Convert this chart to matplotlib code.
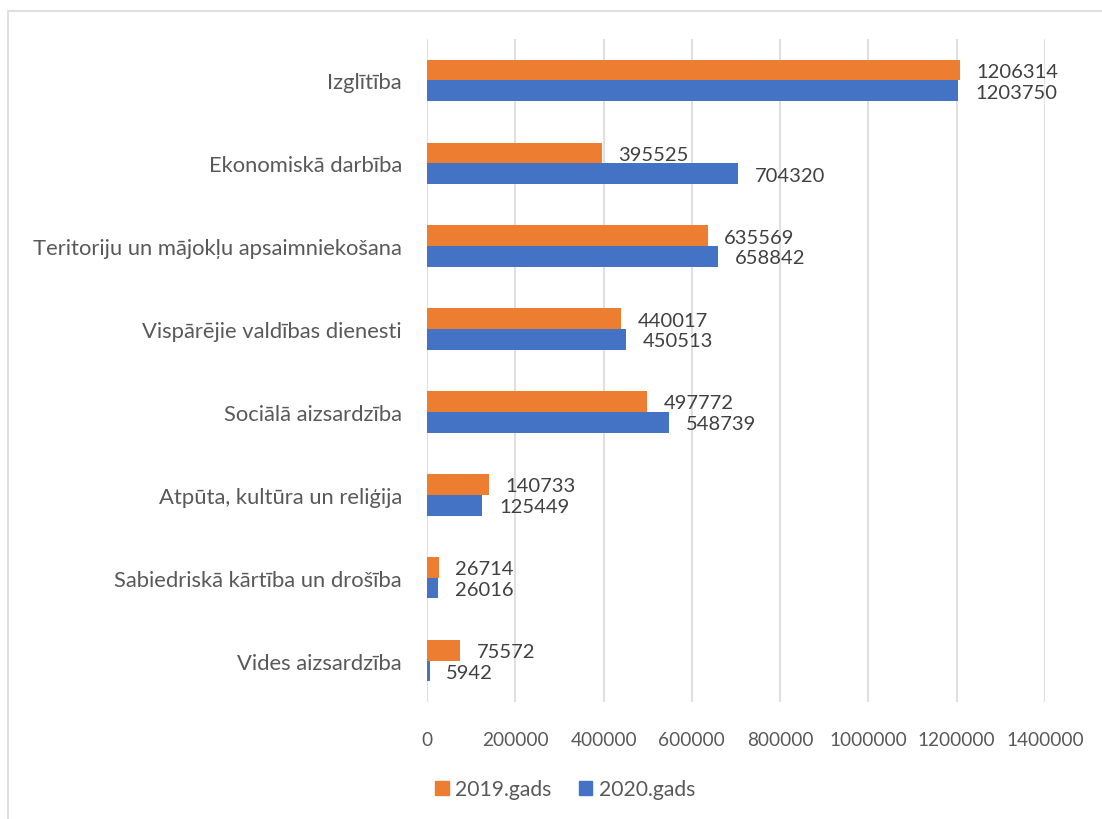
import numpy as np
import matplotlib
matplotlib.use("Agg")
import matplotlib.pyplot as plt
from matplotlib.patches import Patch, Rectangle

plt.rcParams['font.family'] = ['Lato', 'DejaVu Sans']

# dati (no augšas uz leju)
categories = ["Izglītība", "Ekonomiskā darbība", "Teritoriju un mājokļu apsaimniekošana",
              "Vispārējie valdības dienesti", "Sociālā aizsardzība",
              "Atpūta, kultūra un reliģija", "Sabiedriskā kārtība un drošība",
              "Vides aizsardzība"]
vals_2019 = [1206314, 395525, 635569, 440017, 497772, 140733, 26714, 75572]
vals_2020 = [1203750, 704320, 658842, 450513, 548739, 125449, 26016, 5942]
series_names = ["2019.gads", "2020.gads"]
xticks = [0, 200000, 400000, 600000, 800000, 1000000, 1200000, 1400000]

c19 = "#ED7D31"
c20 = "#4472C4"

fig = plt.figure(figsize=(11.02, 8.2), dpi=100)
ax = fig.add_axes([427/1102, 1 - 703/820, (1045 - 427)/1102, (703 - 40)/820])

n = len(categories)
y = np.arange(n)[::-1]
h = 0.25
ax.barh(y + h/2, vals_2019, height=h, color=c19, zorder=3)
ax.barh(y - h/2, vals_2020, height=h, color=c20, zorder=3)

for yi, v in zip(y, vals_2019):
    ax.annotate(str(v), (v, yi + h/2), xytext=(12, -1), textcoords='offset points',
                va='center', ha='left', fontsize=14.5, color='#404040')
for yi, v in zip(y, vals_2020):
    ax.annotate(str(v), (v, yi - h/2), xytext=(12, -1), textcoords='offset points',
                va='center', ha='left', fontsize=14.5, color='#404040')

ax.set_xlim(0, 1400000)
ax.set_ylim(-0.5, n - 0.5)
ax.set_xticks(xticks)
ax.set_xticklabels([str(t) for t in xticks])
ax.set_yticks(y)
ax.set_yticklabels(categories)
ax.tick_params(axis='x', length=0, pad=21, labelsize=13.7, labelcolor='#595959')
ax.tick_params(axis='y', length=0, pad=18, labelsize=15.8, labelcolor='#595959')
ax.grid(axis='x', color='#d9d9d9', linewidth=1.2, zorder=0)
for s in ax.spines.values():
    s.set_visible(False)

handles = [Patch(color=c19), Patch(color=c20)]
fig.legend(handles, series_names, loc='center', bbox_to_anchor=(565/1102, 1 - 790/820),
           ncol=2, frameon=False, fontsize=15.2, handlelength=0.65, handleheight=0.65,
           handletextpad=0.3, columnspacing=1.3, labelcolor='#595959')

# rāmis ap diagrammu
fig.patches.append(Rectangle((7.5/1102, -0.05), 1.1, 1 - 11.5/820 + 0.05,
                             transform=fig.transFigure, fill=False,
                             edgecolor='#d9d9d9', linewidth=1.2))

fig.savefig("out.png", dpi=100)
